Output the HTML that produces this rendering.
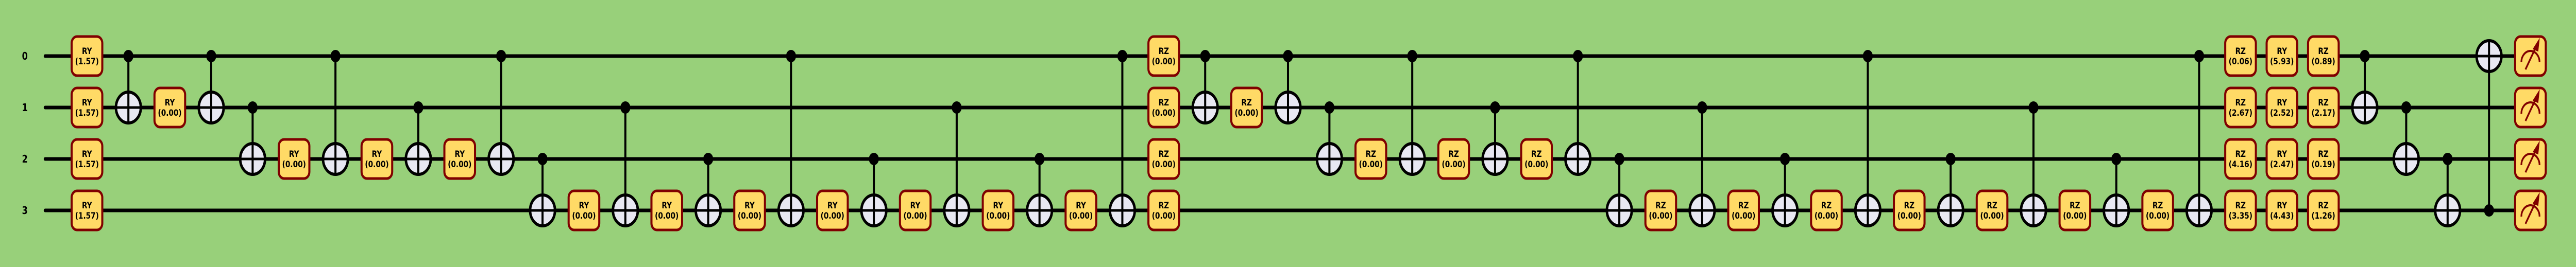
<!DOCTYPE html>
<html><head><meta charset="utf-8"><meta name="viewport" content="width=6220, initial-scale=1">
<style>
html,body{margin:0;padding:0;background:#98D07A;overflow:hidden;width:100vw;height:100vh;}
svg{display:block;width:100vw;height:100vh}
text{font-family:"DejaVu Sans","Liberation Sans",sans-serif;font-weight:bold;}
</style></head><body>
<svg id="c" viewBox="0 0 6220 519" preserveAspectRatio="none" xmlns="http://www.w3.org/2000/svg">
<rect width="6220" height="519" fill="#98D07A"/>
</svg>
<script>
const wires = [0,1,2,3];
const singleCols = [
 [0,'RY',[0,1,2,3],['1.57','1.57','1.57','1.57']],
 [2,'RY',[1],['0.00']],[5,'RY',[2],['0.00']],[7,'RY',[2],['0.00']],[9,'RY',[2],['0.00']],
 [12,'RY',[3],['0.00']],[14,'RY',[3],['0.00']],[16,'RY',[3],['0.00']],[18,'RY',[3],['0.00']],
 [20,'RY',[3],['0.00']],[22,'RY',[3],['0.00']],[24,'RY',[3],['0.00']],
 [26,'RZ',[0,1,2,3],['0.00','0.00','0.00','0.00']],
 [28,'RZ',[1],['0.00']],[31,'RZ',[2],['0.00']],[33,'RZ',[2],['0.00']],[35,'RZ',[2],['0.00']],
 [38,'RZ',[3],['0.00']],[40,'RZ',[3],['0.00']],[42,'RZ',[3],['0.00']],[44,'RZ',[3],['0.00']],
 [46,'RZ',[3],['0.00']],[48,'RZ',[3],['0.00']],[50,'RZ',[3],['0.00']],
 [52,'RZ',[0,1,2,3],['0.06','2.67','4.16','3.35']],
 [53,'RY',[0,1,2,3],['5.93','2.52','2.47','4.43']],
 [54,'RZ',[0,1,2,3],['0.89','2.17','0.19','1.26']]
];
const cnotCols = [1,3,4,6,8,10,11,13,15,17,19,21,23,25,27,29,30,32,34,36,37,39,41,43,45,47,49,51,55,56,57,58];
const cnotCtrl = [0,0,1,0,1,0,2,1,2,0,2,1,2,0,0,0,1,0,1,0,2,1,2,0,2,1,2,0,0,1,2,3];
const cnotTgt  = [1,1,2,2,2,2,3,3,3,3,3,3,3,3,1,1,2,2,2,2,3,3,3,3,3,3,3,3,1,2,3,0];
const measureCol = 59;

const X = c => 210 + 100*c;
const Y = q => 109 + 100*q;
const svg = document.getElementById('c');
const NS = 'http://www.w3.org/2000/svg';
function mk(tag, attrs, parent){const e=document.createElementNS(NS,tag);for(const k in attrs)e.setAttribute(k,attrs[k]);(parent||svg).appendChild(e);return e;}

wires.forEach(q=>{
  const g = mk('g',{});
  
  
  mk('line',{x1:109,y1:Y(q),x2:X(measureCol),y2:Y(q),stroke:'#000','stroke-width':7,'stroke-linecap':'round'},g);
  const t = mk('text',{x:60,y:Y(q)+7,'text-anchor':'middle','font-size':20,fill:'#000'},g);
  t.textContent = q;
  
  
});

cnotCols.forEach((c,i)=>{
  const x=X(c), yc=Y(cnotCtrl[i]), yt=Y(cnotTgt[i]);
  const g = mk('g',{});
  
  
  const dir = yt>yc?1:-1;
  mk('line',{x1:x,y1:yc,x2:x,y2:yt+dir*32,stroke:'#000','stroke-width':5},g);
  mk('circle',{cx:x,cy:yc,r:12,fill:'#000'},g);
  mk('circle',{cx:x,cy:yt,r:30,fill:'#E8E8F2',stroke:'#000','stroke-width':6},g);
  mk('line',{x1:x-30,y1:yt,x2:x+30,y2:yt,stroke:'#000','stroke-width':5},g);
  mk('line',{x1:x,y1:yt-30,x2:x,y2:yt+30,stroke:'#000','stroke-width':5},g);
});

singleCols.forEach(op=>{
  const [c,name,qs,vals]=op;
  qs.forEach((q,j)=>{
    const x=X(c), y=Y(q);
    const g = mk('g',{});
    
    
    mk('rect',{x:x-37,y:y-38,width:74,height:76,rx:13,fill:'#FFDA66',stroke:'#800000','stroke-width':5},g);
    const t1=mk('text',{x:x,y:y-4,'text-anchor':'middle','font-size':17,fill:'#000'},g);
    t1.textContent=name;
    const t2=mk('text',{x:x,y:y+16,'text-anchor':'middle','font-size':17,fill:'#000'},g);
    t2.textContent='('+vals[j]+')';
  });
});

wires.forEach(q=>{
  const x=X(measureCol), y=Y(q);
  const g = mk('g',{});
  
  
  mk('rect',{x:x-37,y:y-38,width:74,height:76,rx:13,fill:'#FFDA66',stroke:'#800000','stroke-width':5},g);
  mk('path',{d:`M ${x-22} ${y+12} A 22 22 0 0 1 ${x+22} ${y+12}`,fill:'none',stroke:'#800000','stroke-width':4},g);
  mk('line',{x1:x-12,y1:y+26,x2:x+17,y2:y-24,stroke:'#800000','stroke-width':4},g);
  mk('path',{d:`M ${x+21} ${y-32} L ${x+7} ${y-14} L ${x+18} ${y-10} Z`,fill:'#800000',stroke:'#800000','stroke-width':2},g);
});
</script>
</body></html>
